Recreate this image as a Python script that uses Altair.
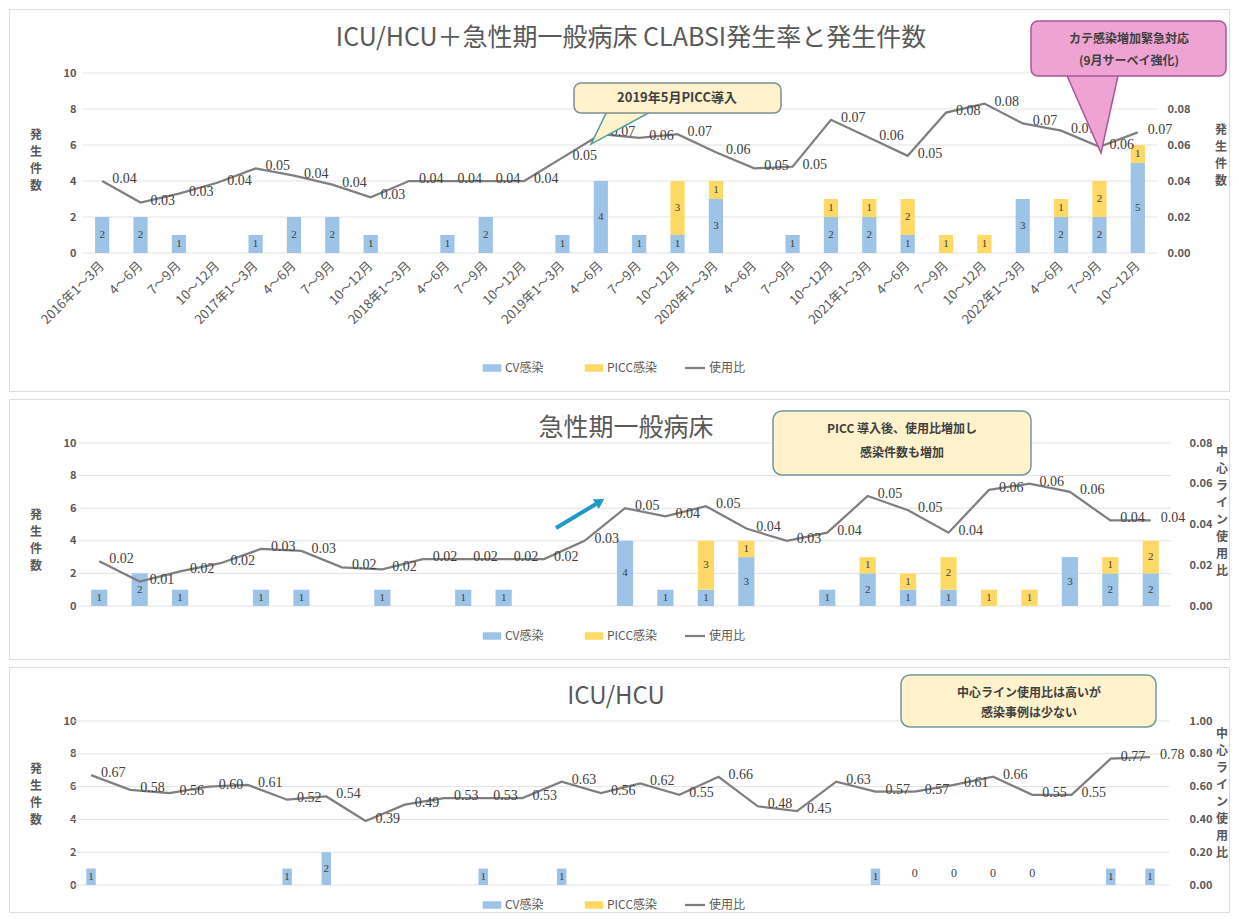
import altair as alt
import pandas as pd

FONT = "Noto Sans CJK JP"
SERIF = "Liberation Serif"
BLUE = "#9DC3E6"
YELLOW = "#FFD966"
LINE = "#7F7F7F"
TXT = "#595959"
DARK = "#404040"
GRID = "#E3E3E3"
W = 1220

# ---------------- data ----------------
quarters = ["2016年1～3月", "4～6月", "7～9月", "10～12月",
            "2017年1～3月", "4～6月", "7～9月", "10～12月",
            "2018年1～3月", "4～6月", "7～9月", "10～12月",
            "2019年1～3月", "4～6月", "7～9月", "10～12月",
            "2020年1～3月", "4～6月", "7～9月", "10～12月",
            "2021年1～3月", "4～6月", "7～9月", "10～12月",
            "2022年1～3月", "4～6月", "7～9月", "10～12月"]
series_names = ["CV感染", "PICC感染", "使用比"]

# ICU/HCU + general wards
all_cv = [2, 2, 1, 0, 1, 2, 2, 1, 0, 1, 2, 0, 1, 4, 1, 1, 3, 0, 1, 2, 2, 1, 0, 0, 3, 2, 2, 5]
all_picc = [0, 0, 0, 0, 0, 0, 0, 0, 0, 0, 0, 0, 0, 0, 0, 3, 1, 0, 0, 1, 1, 2, 1, 1, 0, 1, 2, 1]
all_ratio = [0.040, 0.028, 0.033, 0.039, 0.047, 0.043, 0.038, 0.031, 0.040, 0.040, 0.040, 0.040,
             0.053, 0.066, 0.064, 0.066, 0.056, 0.047, 0.048, 0.074, 0.064, 0.054, 0.078, 0.083,
             0.072, 0.068, 0.059, 0.067]

# general wards (27 periods)
gen_cv = [1, 2, 1, 0, 1, 1, 0, 1, 0, 1, 1, 0, 0, 4, 1, 1, 3, 0, 1, 2, 1, 1, 0, 0, 3, 2, 2]
gen_picc = [0, 0, 0, 0, 0, 0, 0, 0, 0, 0, 0, 0, 0, 0, 0, 3, 1, 0, 0, 1, 1, 2, 1, 1, 0, 1, 2]
gen_ratio = [0.022, 0.012, 0.017, 0.021, 0.028, 0.027, 0.019, 0.018, 0.023, 0.023, 0.023, 0.023,
             0.032, 0.048, 0.044, 0.049, 0.038, 0.032, 0.036, 0.054, 0.047, 0.036, 0.057, 0.060,
             0.056, 0.042, 0.042]

# ICU/HCU
icu_cv = [1, 0, 0, 0, 0, 1, 2, 0, 0, 0, 1, 0, 1, 0, 0, 0, 0, 0, 0, 0, 1, 0, 0, 0, 0, 0, 1, 1]
icu_picc_zero = [None, None, None, None, None, None, None, None, None, None, None, None, None, None,
                 None, None, None, None, None, None, None, 0, 0, 0, 0, None, None, None]
icu_ratio = [0.67, 0.58, 0.56, 0.60, 0.61, 0.52, 0.54, 0.39, 0.49, 0.53, 0.53, 0.53, 0.63, 0.56,
             0.62, 0.55, 0.66, 0.48, 0.45, 0.63, 0.57, 0.57, 0.61, 0.66, 0.55, 0.55, 0.77, 0.78]

count_ticks = [0, 2, 4, 6, 8, 10]
ratio_ticks_all = [0.0, 0.02, 0.04, 0.06, 0.08]
ratio_ticks_gen = [0.0, 0.02, 0.04, 0.06, 0.08]
ratio_ticks_icu = [0.0, 0.2, 0.4, 0.6, 0.8, 1.0]

one = pd.DataFrame({"k": [0]})


def txt(x, y, t, size=12, weight="normal", color=TXT, align="center", baseline="middle",
        font=FONT, line_height=None):
    kw = dict(text=t, fontSize=size, fontWeight=weight, color=color, align=align,
              baseline=baseline, font=font)
    if line_height is not None:
        kw["lineBreak"] = "\n"
        kw["lineHeight"] = line_height
    return alt.Chart(one).mark_text(**kw).encode(x=alt.value(x), y=alt.value(y))


def box(x1, x2, y1, y2, fill, stroke, sw=1.5, cr=7):
    return alt.Chart(one).mark_rect(fill=fill, stroke=stroke, strokeWidth=sw,
                                    cornerRadius=cr).encode(
        x=alt.value(x1), x2=alt.value(x2), y=alt.value(y1), y2=alt.value(y2))


def tri(x, y, path, size, fill, stroke, sw=1.5):
    return alt.Chart(one).mark_point(shape=path, size=size, filled=True, fill=fill,
                                     stroke=stroke, strokeWidth=sw, opacity=1).encode(
        x=alt.value(x), y=alt.value(y))


def legend(y):
    return [
        box(474, 492, y - 3.5, y + 3.5, BLUE, BLUE, 0.5, 0),
        txt(496, y, series_names[0], align="left"),
        box(576, 594, y - 3.5, y + 3.5, YELLOW, YELLOW, 0.5, 0),
        txt(598, y, series_names[1], align="left"),
        alt.Chart(one).mark_rule(color=LINE, strokeWidth=2.25).encode(
            x=alt.value(676), x2=alt.value(696), y=alt.value(y)),
        txt(700, y, series_names[2], align="left"),
    ]


def panel(cv, picc, ratio, xr, pi, yr, rdom, rticks, roff, h, extra, xlabels=None,
          zero_labels=None):
    n = len(cv)
    sx = alt.Scale(type="band", range=xr, paddingInner=pi, paddingOuter=pi / 2)
    X = alt.X("i:O", scale=sx, axis=None)
    Xc = alt.X("i:O", scale=sx, axis=None, bandPosition=0.5)
    yL = alt.Scale(domain=[0, 10], range=yr, nice=False, zero=False)
    yR = alt.Scale(domain=rdom, range=yr, nice=False, zero=False)

    rows = []
    for i, (c, p) in enumerate(zip(cv, picc)):
        if c:
            rows.append(dict(i=i, s=series_names[0], y0=0, y1=c, mid=c / 2, lab=str(c)))
        if p:
            rows.append(dict(i=i, s=series_names[1], y0=c, y1=c + p, mid=c + p / 2, lab=str(p)))
    bars = pd.DataFrame(rows)
    ldf = pd.DataFrame({"i": list(range(n)), "r": ratio})
    gdf = pd.DataFrame({"t": count_ticks})

    left_axis = alt.Axis(orient="left", offset=-71, values=count_ticks, ticks=False, tickSize=0,
                         domain=False, grid=False, labelPadding=4, labelFont=FONT,
                         labelFontSize=11, labelFontWeight="bold", labelColor=TXT, title=None)
    right_axis = alt.Axis(orient="right", offset=roff, values=rticks, format=".2f", ticks=False,
                          tickSize=0, domain=False, grid=False, labelPadding=4, labelFont=FONT,
                          labelFontSize=11, labelFontWeight="bold", labelColor=TXT, title=None)

    layers = [
        alt.Chart(gdf).mark_rule(color=GRID, strokeWidth=1).encode(
            y=alt.Y("t:Q", scale=yL, axis=None), x=alt.value(xr[0]), x2=alt.value(xr[1])),
        alt.Chart(bars).mark_bar().encode(
            x=X, y=alt.Y("y0:Q", scale=yL, axis=left_axis), y2="y1:Q",
            color=alt.Color("s:N", scale=alt.Scale(domain=series_names[:2], range=[BLUE, YELLOW]),
                            legend=None)),
        alt.Chart(bars).mark_text(font=SERIF, fontSize=11, color=DARK).encode(
            x=Xc, y=alt.Y("mid:Q", scale=yL, axis=None), text="lab:N"),
        alt.Chart(ldf).mark_line(color=LINE, strokeWidth=2.25).encode(
            x=Xc, y=alt.Y("r:Q", scale=yR, axis=right_axis)),
        alt.Chart(ldf).mark_text(align="left", dx=10, dy=-2, font=SERIF, fontSize=14,
                                 color=DARK).encode(
            x=Xc, y=alt.Y("r:Q", scale=yR, axis=None), text=alt.Text("r:Q", format=".2f")),
    ]
    if xlabels is not None:
        xdf = pd.DataFrame({"i": list(range(n)), "q": xlabels[:n]})
        layers.append(alt.Chart(xdf).mark_text(angle=315, align="right", baseline="middle",
                                               font=FONT, fontSize=13, color=TXT).encode(
            x=Xc, y=alt.value(255), text="q:N"))
    if zero_labels is not None:
        zdf = pd.DataFrame({"i": list(range(n)), "z": zero_labels}).dropna()
        layers.append(alt.Chart(zdf).mark_text(font=SERIF, fontSize=12, color=DARK, dy=-12).encode(
            x=Xc, y=alt.Y("z:Q", scale=yL, axis=None), text=alt.Text("z:Q", format="d")))
    layers += extra
    return alt.layer(*layers).resolve_scale(y="independent").properties(width=W, height=h)


VT = dict(size=12, weight="bold", baseline="top", line_height=17)

# ---------------- panel 1 ----------------
extra1 = [
    txt(622, 29, "ICU/HCU＋急性期一般病床  CLABSI発生率と発生件数", size=25, color=TXT),
    txt(27, 121, "発\n生\n件\n数", **VT),
    txt(1212, 116, "発\n生\n件\n数", **VT),
    tri(623, 100, "M -0.53,0 L 0.53,0 L -0.91,0.78 Z", 8100, "#FFF2CC", "#4E9E9E"),
    box(565, 772, 74, 104, "#FFF2CC", "#7F8F8F"),
    txt(668, 89, "2019年5月PICC導入", size=13, weight="bold", color=DARK),
    tri(1083, 62, "M -0.318,0 L 0.318,0 L 0.106,0.965 Z", 28900, "#EFA3D3", "#A8579A"),
    box(1022, 1217, 12, 67, "#EFA3D3", "#A8579A"),
    txt(1120, 30, "カテ感染増加緊急対応", size=12, weight="bold", color=DARK),
    txt(1120, 52, "(9月サーベイ強化)", size=12, weight="bold", color=DARK),
] + legend(359)

p1 = panel(all_cv, all_picc, all_ratio, [74, 1148], 0.63, [244, 64], [0, 0.10],
           ratio_ticks_all, -66, 382, extra1, xlabels=quarters)

# ---------------- panel 2 ----------------
extra2 = [
    txt(617, 29, "急性期一般病床", size=25, color=TXT),
    txt(27, 111, "発\n生\n件\n数", **VT),
    txt(1213, 48, "中\n心\nラ\nイ\nン\n使\n用\n比", **VT),
    box(764, 1022, 12, 76, "#FFF2CC", "#6E9A9A", 1.5, 9),
    txt(893, 30, "PICC 導入後、使用比増加し", size=12, weight="bold", color=DARK),
    txt(893, 54, "感染件数も増加", size=12, weight="bold", color=DARK),
    alt.Chart(one).mark_rule(color="#1F9AC9", strokeWidth=4).encode(
        x=alt.value(547), y=alt.value(129), x2=alt.value(587), y2=alt.value(105)),
    alt.Chart(one).mark_point(shape="triangle-up", size=130, filled=True, color="#1F9AC9",
                              opacity=1, angle=59).encode(x=alt.value(591), y=alt.value(102.5)),
] + legend(237)

p2 = panel(gen_cv, gen_picc, gen_ratio, [70, 1162], 0.6, [207, 44], [0, 0.08],
           ratio_ticks_gen, -44, 260, extra2)

# ---------------- panel 3 ----------------
extra3 = [
    txt(607, 30, "ICU/HCU", size=24, color=TXT),
    txt(27, 97, "発\n生\n件\n数", **VT),
    txt(1213, 62, "中\n心\nラ\nイ\nン\n使\n用\n比", **VT),
    box(892, 1147, 8, 60, "#FFF2CC", "#6E9A9A", 1.5, 9),
    txt(1020, 26, "中心ライン使用比は高いが", size=12, weight="bold", color=DARK),
    txt(1020, 46, "感染事例は少ない", size=12, weight="bold", color=DARK),
] + legend(238)

p3 = panel(icu_cv, [0] * len(icu_cv), icu_ratio, [62.4, 1160.6], 0.76, [218, 54], [0, 1.0],
           ratio_ticks_icu, -44, 245, extra3, zero_labels=icu_picc_zero)

chart = alt.vconcat(p1, p2, p3, spacing=6, padding=0).configure_view(
    stroke="#BFBFBF", strokeWidth=1.2).configure(font=FONT)

chart.save("out.html", embed_options={"renderer": "svg", "actions": False})
